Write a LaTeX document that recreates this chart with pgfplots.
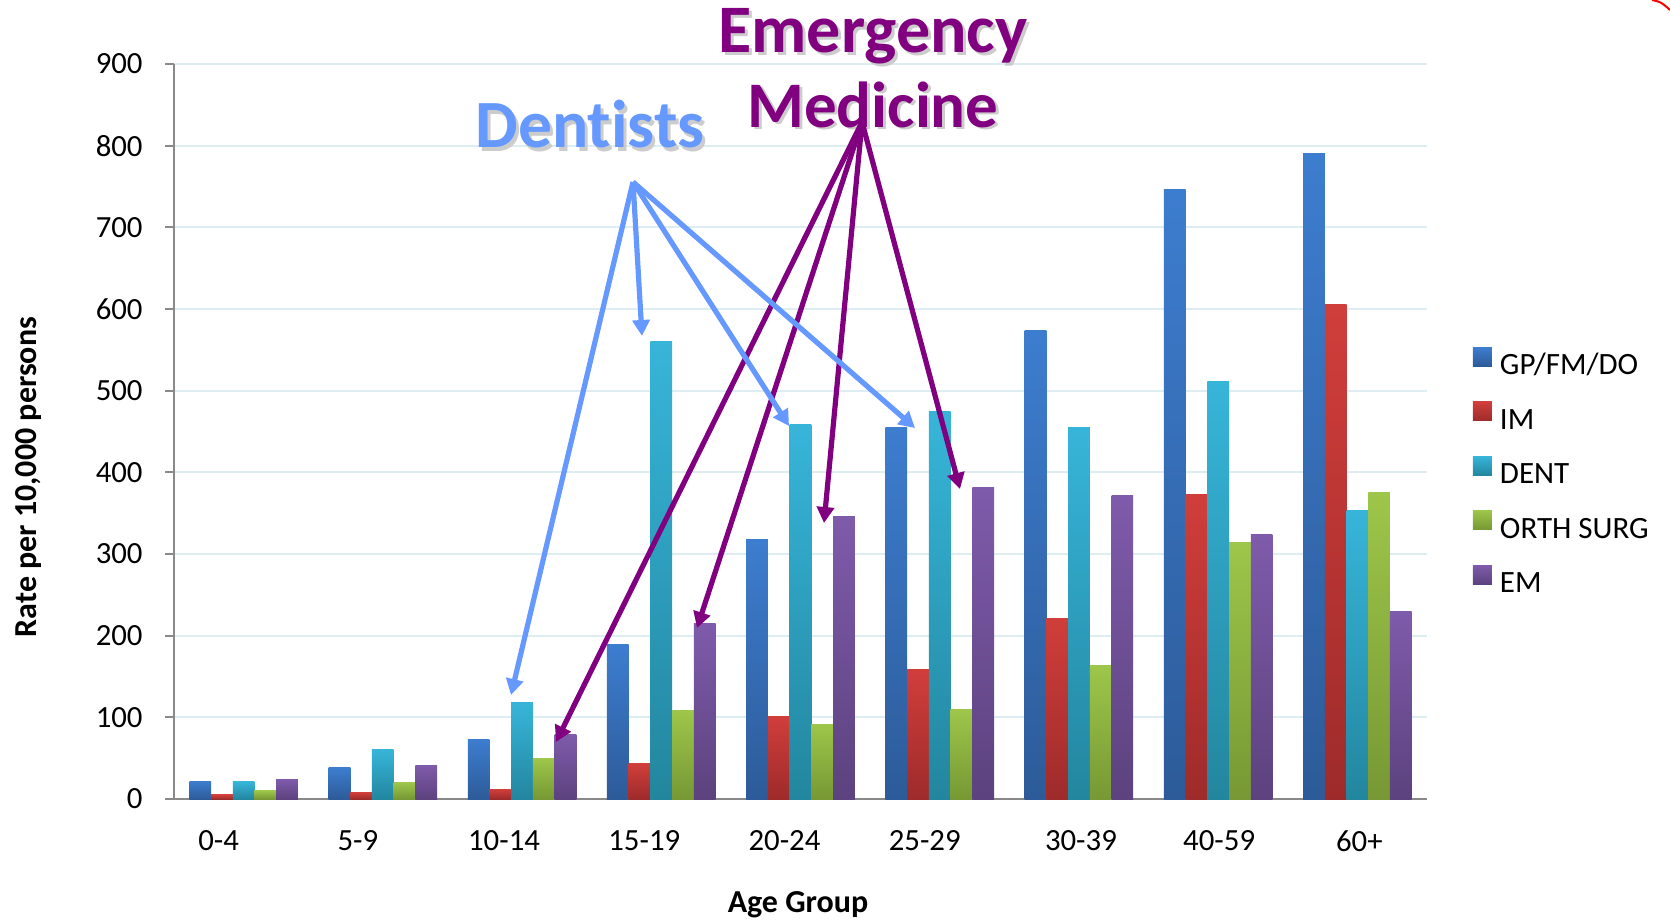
\documentclass[border=0pt]{standalone}
\usepackage{fontspec}
\setmainfont{Carlito}[Ligatures=NoCommon]
\usepackage{pgfplots}
\pgfplotsset{compat=1.18}
\usepackage{pgfplotstable}
\usetikzlibrary{arrows.meta}

\definecolor{gpT}{HTML}{3D7DCF}\definecolor{gpB}{HTML}{2D5B99}
\definecolor{imT}{HTML}{D03E3B}\definecolor{imB}{HTML}{9E2B2B}
\definecolor{deT}{HTML}{37B5D9}\definecolor{deB}{HTML}{23869F}
\definecolor{orT}{HTML}{9DC64A}\definecolor{orB}{HTML}{779834}
\definecolor{emT}{HTML}{7F5BAB}\definecolor{emB}{HTML}{5C427E}
\definecolor{axisgray}{HTML}{898989}
\definecolor{gridblue}{HTML}{DDEDF2}
\definecolor{dentblue}{HTML}{6699FF}
\definecolor{empurple}{HTML}{800080}

\pgfplotstableread{
x gp im dent orth em
0 22 5 21 10 24
1 39 8 61 20 41
2 73 12 118 49 79
3 188.6 42.9 560.8 107.8 215.5
4 318 101.6 458 91.8 346.5
5 455.5 158 475 110 382
6 574 221.6 455.5 162.9 372
7 746 372.8 511 313.8 323.6
8 790 605 353 375 229.6
}\datatable

\begin{document}
\begin{tikzpicture}
\useasboundingbox (0,0) rectangle (835pt,-460pt);
\begin{axis}[
  at={(87pt,-399.5pt)}, anchor=south west,
  scale only axis, width=626.5pt, height=367.5pt,
  xmin=-0.5, xmax=8.5, ymin=0, ymax=900,
  ybar, bar width=0.156,
  axis lines=left,
  axis line style={-, draw=axisgray, line width=1pt},
  x axis line style={shorten <=-4.5pt},
  ytick={0,100,...,900},
  xtick={0,...,8},
  xticklabels={{0-4\kern25pt},{5-9\kern25pt},{10-14\kern18pt},{15-19\kern17pt},{20-24\kern16pt},{25-29\kern15pt},{\kern2pt 30-39},{\kern1pt 40-59},{\kern2pt 60+}},
  major x tick style={draw=none},
  tick align=outside, major tick length=4.5pt,
  y tick style={draw=axisgray, line width=1pt},
  ymajorgrids, grid style={draw=gridblue, line width=1pt},
  /pgf/number format/assume math mode=true,
  ticklabel style={font=\fontsize{15.4}{18}\selectfont},
  yticklabel style={anchor=east, inner sep=0pt, xshift=-11pt},
  xticklabel style={anchor=north, inner sep=0pt, yshift=-11pt},
  xlabel={Age Group}, ylabel={Rate per 10,000 persons},
  xlabel style={at={(axis description cs:0.498,-0.155)}, anchor=base, font=\bfseries\fontsize{16}{19}\selectfont},
  ylabel style={at={(axis description cs:-0.1165,0.438)}, anchor=center, rotate=0, font=\bfseries\fontsize{16}{19}\selectfont},
  legend image code/.code={\fill[#1] (0pt,0pt) rectangle (9.5pt,9.5pt);},
  legend cell align=left,
  legend style={draw=none, fill=none, at={(1.0367,0.6259)}, anchor=north west,
    inner sep=0pt, outer sep=0pt, row sep=0pt,
    nodes={inner sep=0pt, text height=18pt, text depth=9.25pt, font=\fontsize{15.5}{18}\selectfont},
    /tikz/every odd column/.append style={column sep=4pt}},
  sGP/.style={draw=none, top color=gpT, bottom color=gpB, bar shift=-0.312},
  sIM/.style={draw=none, top color=imT, bottom color=imB, bar shift=-0.156},
  sDE/.style={draw=none, top color=deT, bottom color=deB, bar shift=0},
  sOR/.style={draw=none, top color=orT, bottom color=orB, bar shift=0.156},
  sEM/.style={draw=none, top color=emT, bottom color=emB, bar shift=0.312},
]
% one bar per plot so that each bar carries its own gradient
\addplot[sGP] table[x=x,y=gp,restrict x to domain=0:0]{\datatable};
\addlegendentry{GP/FM/DO}
\addplot[sIM] table[x=x,y=im,restrict x to domain=0:0]{\datatable};
\addlegendentry{IM}
\addplot[sDE] table[x=x,y=dent,restrict x to domain=0:0]{\datatable};
\addlegendentry{DENT}
\addplot[sOR] table[x=x,y=orth,restrict x to domain=0:0]{\datatable};
\addlegendentry{ORTH SURG}
\addplot[sEM] table[x=x,y=em,restrict x to domain=0:0]{\datatable};
\addlegendentry{EM}
\pgfplotsinvokeforeach{1,...,8}{
  \addplot[sGP, forget plot] table[x=x,y=gp,restrict x to domain=#1:#1]{\datatable};
  \addplot[sIM, forget plot] table[x=x,y=im,restrict x to domain=#1:#1]{\datatable};
  \addplot[sDE, forget plot] table[x=x,y=dent,restrict x to domain=#1:#1]{\datatable};
  \addplot[sOR, forget plot] table[x=x,y=orth,restrict x to domain=#1:#1]{\datatable};
  \addplot[sEM, forget plot] table[x=x,y=em,restrict x to domain=#1:#1]{\datatable};
}
\end{axis}
\begin{scope}[x=0.5pt,y=-0.5pt]
  \tikzset{ttl/.style={anchor=base, font=\bfseries\fontsize{32.5}{38}\selectfont}}
  \node[ttl, font=\bfseries\fontsize{33.8}{40}\selectfont, text=gray!40] at (593,151) {Dentists};
  \node[ttl, font=\bfseries\fontsize{33.8}{40}\selectfont, text=dentblue] at (590,148) {Dentists};
  \node[ttl, font=\bfseries\fontsize{34}{40}\selectfont, text=gray!40] at (876,56) {Emergency};
  \node[ttl, font=\bfseries\fontsize{34}{40}\selectfont, text=empurple] at (873,53) {Emergency};
  \node[ttl, text=gray!40] at (876,130) {Medicine};
  \node[ttl, text=empurple] at (873,127) {Medicine};
  \tikzset{arr/.style={line width=2.6pt, -{Triangle[length=8pt,width=8.5pt]}}}
  \foreach \tx/\ty in {556/742, 697/628, 824/523, 960/489}
    \draw[arr, empurple] (862,122) -- (\tx,\ty);
  \foreach \tx/\ty in {511/695, 642/336, 789/426, 915/428}
    \draw[arr, dentblue] (633,182) -- (\tx,\ty);
  \draw[red, line width=1pt] (1652,0) .. controls (1661,2) .. (1670,10);
\end{scope}
\end{tikzpicture}
\end{document}
